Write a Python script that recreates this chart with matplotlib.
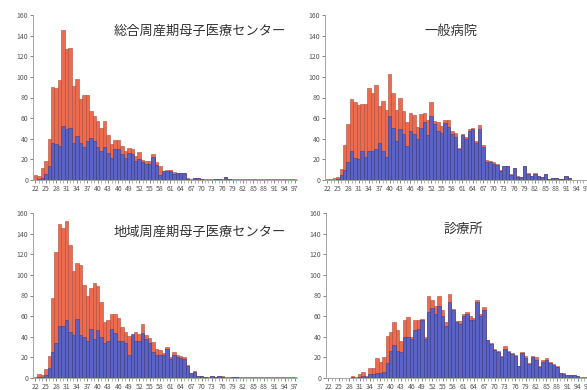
import numpy as np
import matplotlib
matplotlib.use("Agg")
import matplotlib.pyplot as plt

plt.rcParams['font.family'] = ['Noto Sans CJK JP', 'DejaVu Sans']

ages = list(range(22, 98))
tick_ages = list(range(22, 98, 3))

titles = ["総合周産期母子医療センター", "一般病院", "地域周産期母子医療センター", "診療所"]

# red = total, blue = part (drawn in front)
sogo_red = [5, 4, 12, 18, 40, 90, 89, 97, 145, 127, 128, 91, 98, 79, 82, 82, 67, 62, 57, 50,
            57, 44, 35, 39, 39, 33, 28, 31, 30, 23, 27, 19, 18, 18, 25, 17, 14, 9, 10, 10,
            8, 7, 7, 7, 2, 0.5, 2, 2, 1, 0.5, 0.5, 0.5, 1, 1, 0.5, 3, 1, 0.5, 0.5, 0.5,
            0.5, 0.5, 0.5, 0.5, 0.5, 0.5, 0.5, 0.5, 0.5, 0.5, 0.5, 0.5, 0.5, 0.5, 0.5, 0.5]
sogo_blue = [0, 1, 2, 6, 14, 36, 35, 33, 52, 49, 50, 36, 43, 36, 32, 38, 41, 38, 32, 28,
             32, 26, 21, 30, 30, 25, 21, 26, 25, 18, 20, 17, 16, 16, 22, 15, 5, 9, 9, 9,
             6, 7, 7, 7, 1, 0, 2, 2, 1, 0, 0, 0, 1, 1, 0, 3, 1, 0, 0, 0,
             0, 0, 0, 0, 0, 0, 0, 0, 0, 0, 0, 0, 0, 0, 0, 0]

ippan_red = [0.5, 1, 2, 3, 11, 34, 54, 79, 76, 73, 74, 74, 89, 84, 92, 72, 77, 68, 103, 84,
             68, 80, 67, 56, 65, 63, 51, 64, 65, 58, 76, 57, 56, 52, 58, 58, 48, 46, 31, 45,
             42, 49, 50, 38, 53, 34, 19, 18, 17, 16, 10, 14, 14, 6, 12, 4, 3, 14, 7, 4,
             7, 4, 3, 6, 1, 2, 2, 1, 1, 4, 2, 0.3, 0.3, 0.3, 0.3, 0.3]
ippan_blue = [0, 0, 0, 1, 5, 10, 17, 28, 21, 20, 28, 22, 28, 28, 30, 36, 28, 22, 62, 50,
              38, 49, 45, 33, 48, 45, 40, 50, 56, 44, 62, 54, 48, 46, 55, 51, 45, 42, 30, 44,
              40, 48, 49, 36, 49, 32, 17, 17, 16, 15, 9, 14, 14, 5, 12, 3, 3, 14, 6, 4,
              6, 4, 3, 6, 1, 2, 2, 1, 1, 4, 2, 0, 0, 0, 0, 0]

chiiki_red = [1, 4, 3, 9, 21, 78, 122, 149, 145, 152, 129, 104, 112, 110, 90, 80, 87, 92, 89, 74,
              54, 56, 62, 62, 58, 49, 45, 41, 38, 45, 43, 52, 42, 39, 35, 28, 27, 24, 30, 20,
              25, 22, 21, 20, 13, 5, 7, 2, 2, 1, 0.5, 2, 1, 2, 2, 1, 0.5, 1, 1, 0.5,
              0.5, 0.5, 0.5, 0.5, 0.5, 0.5, 0.5, 0.5, 0.5, 0.5, 0.5, 0.5, 0.5, 0.5, 0.5, 0.5]
chiiki_blue = [0, 1, 1, 3, 10, 25, 34, 50, 50, 56, 45, 42, 57, 42, 40, 36, 48, 38, 47, 40,
               34, 36, 48, 44, 36, 36, 34, 22, 43, 36, 36, 44, 38, 34, 25, 22, 22, 22, 28, 18,
               22, 20, 19, 18, 12, 5, 6, 2, 2, 1, 0, 2, 1, 2, 1, 0, 0, 1, 1, 0,
               0, 0, 0, 0, 0, 0, 0, 0, 0, 0, 0, 0, 0, 0, 0, 0]

shinryo_red = [0, 0, 0, 0, 0, 0, 0, 2, 1, 4, 6, 2, 10, 10, 19, 16, 20, 41, 45, 54,
               47, 36, 56, 59, 40, 56, 56, 57, 40, 80, 76, 70, 80, 66, 54, 81, 67, 55, 55, 62,
               64, 60, 58, 76, 62, 69, 37, 34, 28, 26, 21, 31, 26, 24, 22, 12, 25, 21, 15, 21,
               20, 12, 17, 19, 16, 14, 12, 5, 5, 3, 3, 3, 2, 1, 0.5, 0.5]
shinryo_blue = [0, 0, 0, 0, 0, 0, 0, 1, 0, 1, 2, 1, 4, 4, 5, 5, 6, 15, 26, 32,
                26, 25, 40, 40, 38, 47, 48, 56, 38, 64, 68, 62, 70, 60, 50, 74, 66, 54, 52, 60,
                62, 56, 56, 74, 60, 66, 37, 33, 27, 25, 20, 28, 25, 23, 21, 12, 24, 19, 14, 20,
                17, 11, 16, 17, 15, 13, 11, 5, 4, 3, 3, 3, 2, 0, 0, 0]

panels = [
    (sogo_red, sogo_blue, titles[0], [33, 180], (0.63, 0.90)),
    (ippan_red, ippan_blue, titles[1], [325, 180], (0.477, 0.90)),
    (chiiki_red, chiiki_blue, titles[2], [33, 378], (0.63, 0.885)),
    (shinryo_red, shinryo_blue, titles[3], [326, 378], (0.52, 0.90)),
]

W, H = 587, 390
fig = plt.figure(figsize=(W / 100, H / 100), dpi=100)
fig.patch.set_facecolor('white')

for red, blue, title, (px, py), tpos in panels:
    ax = fig.add_axes([px / W, 1 - py / H, 264 / W, 165 / H])
    ax.bar(ages, red, width=1.0, color='#EC6A4E', edgecolor='#B04A3A', linewidth=0.4)
    ax.bar(ages, blue, width=1.0, color='#5B62C6', edgecolor='#3B408C', linewidth=0.4)
    ax.set_xlim(21.3, 97.6)
    ax.set_ylim(0, 160)
    ax.set_yticks(range(0, 161, 20))
    ax.set_xticks(tick_ages)
    ax.set_xticks(ages, minor=True)
    ax.set_xticklabels([str(a) for a in tick_ages])
    ax.tick_params(axis='both', labelsize=5, colors='#555555', length=2, width=0.5, pad=1.5)
    ax.tick_params(axis='x', which='minor', length=2, width=0.5, colors='#999999')
    for s in ['top', 'right']:
        ax.spines[s].set_visible(False)
    for s in ['left', 'bottom']:
        ax.spines[s].set_color('#999999')
        ax.spines[s].set_linewidth(0.6)
    ax.text(tpos[0], tpos[1], title, transform=ax.transAxes, ha='center', va='center',
            fontsize=9.5, color='#333333')

fig.savefig('out.png', dpi=100)
